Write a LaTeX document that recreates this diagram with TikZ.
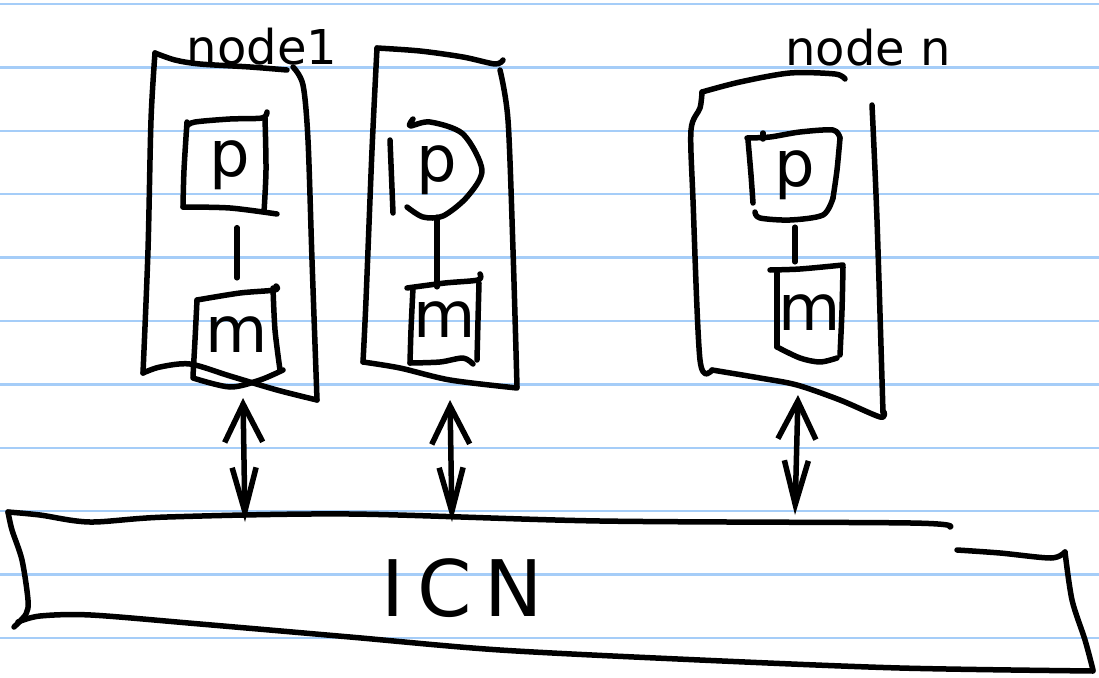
\documentclass[tikz,border=0pt]{standalone}
\usepackage{fontspec}
\newfontfamily\hand{DejaVu Sans}
\usetikzlibrary{arrows.meta,calc}
\definecolor{ruleblue}{RGB}{165,205,248}
\begin{document}
\begin{tikzpicture}[x=1pt,y=-1pt,
  ink/.style={line width=5.5pt,line cap=round,line join=round},
  sk/.style={ink,smooth,tension=0.5},
  letter/.style={inner sep=0pt,font=\hand\fontsize{64}{64}\selectfont},
  lbl/.style={inner sep=0pt,anchor=base,font=\hand\fontsize{48}{48}\selectfont},
  link/.style={ink},
  arr/.style={ink,{Straight Barb[length=38pt,width=38pt]}-{Straight Barb[length=44pt,width=24pt]}}
]
\useasboundingbox (0,0) rectangle (1099,677);
\fill[white] (0,0) rectangle (1099,677);
% ruled paper
\foreach \i in {0,...,10}
  \draw[ruleblue,line width=2.5pt] (0,{4+63.4*\i}) -- (1099,{4+63.4*\i});

% ---------- node 1 ----------
\node[lbl] (lab1) at (262,64) {node1};
\draw[sk] plot coordinates {(155,53) (175,60) (200,64) (250,67) (287,70)};
\draw[sk] plot coordinates {(155,53) (151,120) (148,250) (143,373)};
\draw[sk] plot coordinates {(143,373) (160,367) (190,364) (230,376) (277,390) (317,400)};
\draw[sk] plot coordinates {(293,67) (303,85) (308,140) (312,260) (317,400)};
\node[letter,minimum width=85pt,minimum height=95pt] (p1) at (230,165) {p};
\draw[sk] plot coordinates {(187,126) (195,122) (230,119) (262,118) (267,112)};
\draw[sk] plot coordinates {(265,118) (266,170) (264,212)};
\draw[sk] plot coordinates {(187,122) (184,170) (183,207)};
\draw[sk] plot coordinates {(183,207) (230,208) (277,214)};
\node[letter,minimum width=84pt,minimum height=86pt] (m1) at (237,335) {m};
\draw[sk] plot coordinates {(197,300) (240,293) (275,290) (276,286)};
\draw[sk] plot coordinates {(197,300) (195,340) (193,376)};
\draw[sk] plot coordinates {(273,288) (275,330) (280,370)};
\draw[sk] plot coordinates {(193,378) (230,387) (260,380) (283,370)};
\draw[link,shorten <=15pt,shorten >=14pt] (p1.south -| m1.north) -- (m1.north);

% ---------- node 2 ----------
\draw[sk] plot coordinates {(377,48) (420,51) (463,57) (495,64) (503,60)};
\draw[sk] plot coordinates {(377,48) (372,150) (366,300) (363,362)};
\draw[sk] plot coordinates {(363,362) (400,368) (450,380) (517,388)};
\draw[sk] plot coordinates {(500,70) (508,120) (513,250) (517,387)};
\node[letter,minimum width=92pt,minimum height=94pt] (p2) at (437,170) {p};
\draw[sk] plot coordinates {(413,119) (410,126) (430,122) (463,134) (482,170) (467,197) (443,216) (423,217) (407,207)};
\draw[sk] plot coordinates {(390,140) (393,213)};
\node[letter,minimum width=72pt,minimum height=86pt] (m2) at (445,320) {m};
\draw[sk] plot coordinates {(407,288) (445,283) (478,280) (480,274)};
\draw[sk] plot coordinates {(413,288) (411,330) (410,363)};
\draw[sk] plot coordinates {(479,283) (478,320) (477,360)};
\draw[sk] plot coordinates {(410,363) (440,362) (463,358) (473,364)};
\draw[link] (p2.south) -- ($(p2.south |- m2.north)+(0,10)$);

% ---------- node n ----------
\node[lbl] (labn) at (868,66) {node n};
\draw[sk] plot coordinates {(702,92) (740,82) (790,73) (835,74) (845,79)};
\draw[sk] plot coordinates {(702,92) (700,108) (691,130) (693,200) (700,360) (712,370)};
\draw[sk] plot coordinates {(712,370) (760,378) (797,385) (840,400) (880,417) (884,412)};
\draw[sk] plot coordinates {(872,105) (877,220) (883,413)};
\node[letter,minimum width=90pt,minimum height=88pt] (pn) at (795,175) {p};
\draw[sk] plot coordinates {(747,138) (770,137) (800,132) (833,130) (840,138)};
\draw[sk] plot coordinates {(763,133) (763,139)};
\draw[sk] plot coordinates {(748,140) (751,175) (753,203)};
\draw[sk] plot coordinates {(755,212) (760,218) (790,220) (823,215) (833,198)};
\draw[sk] plot coordinates {(840,138) (837,170) (833,198)};
\node[letter,minimum width=66pt,minimum height=96pt] (mn) at (810,313) {m};
\draw[sk] plot coordinates {(770,270) (800,269) (843,265)};
\draw[sk] plot coordinates {(777,273) (777,310) (777,347)};
\draw[sk] plot coordinates {(843,267) (842,310) (840,355)};
\draw[sk] plot coordinates {(777,347) (800,358) (820,362) (837,358)};
\draw[link,shorten <=8pt] (pn.south) -- ($(pn.south |- mn.north)+(0,-3)$);

% ---------- ICN ----------
\node[inner sep=0pt,font=\hand\fontsize{78}{78}\selectfont] (icn) at (462,588) {I\,C\,N};
\draw[sk] plot coordinates {(8,512) (40,515) (90,522) (167,517) (350,514) (600,521) (911,523) (950,527)};
\draw[sk] plot coordinates {(8,512) (12,530) (22,560) (28,600) (26,614) (14,627)};
\draw[sk] plot coordinates {(18,622) (40,616) (91,615) (200,624) (350,637) (500,650) (700,660) (900,668) (1093,671)};
\draw[sk] plot coordinates {(957,550) (1000,553) (1051,558) (1065,552)};
\draw[sk] plot coordinates {(1065,552) (1072,600) (1085,640) (1093,670)};

% ---------- links to ICN ----------
\coordinate (t1) at (243,398); \coordinate (b1) at (245,522);
\coordinate (t2) at (450,400); \coordinate (b2) at (452,522);
\coordinate (tn) at (798,395); \coordinate (bn) at (795,515);
\draw[arr] (t1) -- (b1);
\draw[arr] (t2) -- (b2);
\draw[arr] (tn) -- (bn);
\end{tikzpicture}
\end{document}
